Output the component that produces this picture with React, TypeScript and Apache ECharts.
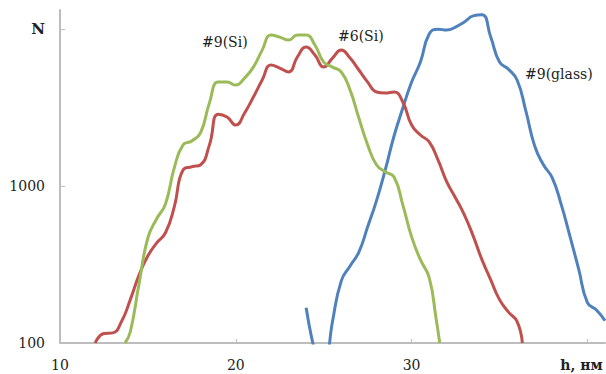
import React, { useEffect, useRef } from "react";
import * as echarts from "echarts";

// #6(Si) – red
const redX = [12, 12.5, 13, 13.5, 14, 14.5, 15, 15.5, 16, 16.5, 17, 17.5, 18, 18.5, 19, 19.5, 20, 20.5, 21, 21.5, 22, 22.5, 23, 23.5, 24, 24.5, 25, 25.5, 26, 26.5, 27, 27.5, 28, 28.5, 29, 29.5, 30, 30.5, 31, 31.5, 32, 32.5, 33, 33.5, 34, 34.5, 35, 35.5, 36, 36.3];
const redY = [100, 115, 116, 137, 189, 272, 360, 435, 505, 738, 1270, 1330, 1370, 1835, 2880, 2760, 2455, 2930, 3705, 4755, 5925, 5670, 5350, 6670, 7715, 6860, 5750, 6565, 7380, 6565, 5510, 4615, 3990, 3930, 3990, 3445, 2455, 2120, 1915, 1470, 1065, 842, 656, 482, 340, 253, 189, 158, 137, 100];

// #9(Si) – green
const greenX = [13.7, 14, 14.5, 15, 15.5, 16, 16.5, 17, 17.5, 18, 18.5, 19, 19.5, 20, 20.5, 21, 21.5, 22, 22.5, 23, 23.5, 24, 24.5, 25, 25.5, 26, 26.5, 27, 27.5, 28, 28.5, 29, 29.5, 30, 30.5, 31, 31.4, 31.6];
const greenY = [100, 118, 240, 469, 620, 770, 1310, 1835, 1945, 2200, 3400, 4615, 4615, 4415, 4900, 5750, 7380, 9200, 8935, 8550, 9200, 9200, 7950, 6190, 5750, 5350, 4100, 2720, 1835, 1370, 1235, 1146, 760, 475, 340, 261, 141, 100];

// #9(glass) – blue
const blueX = [24, 25, 25.5, 26, 26.5, 27, 27.5, 28, 28.5, 29, 29.5, 30, 30.5, 31, 31.5, 32, 32.5, 33, 33.5, 34, 34.5, 35, 35.5, 36, 36.5, 37, 37.5, 38, 38.5, 39, 39.5, 40, 40.5, 41];
const blueY = [168, 65, 137, 249, 310, 380, 551, 806, 1270, 2090, 3150, 4615, 6190, 9340, 10040, 9900, 10350, 11150, 12200, 12400, 8935, 6190, 5580, 4755, 3010, 1807, 1370, 1130, 771, 482, 297, 181, 163, 139];

const seriesNames = ["#6(Si)", "#9(Si)", "#9(glass)"];
const yTickLabels: Record<number, string> = { 100: "100", 1000: "1000", 10000: "{b|N}" };
const xTickLabels: Record<number, string> = { 10: "10", 20: "20", 30: "30", 40: "{u|h, нм}" };

const zip = (xs: number[], ys: number[]) => xs.map((x, i) => [x, ys[i]]);

export default function App() {
  const ref = useRef<HTMLDivElement>(null);
  useEffect(() => {
    if (!ref.current) return;
    const chart = echarts.init(ref.current, null, { renderer: "svg" });
    const font = "DejaVu Serif";
    const axisGray = "#bdbdbd";
    const smooth = 0.5;
    chart.setOption({
      animation: false,
      backgroundColor: "#ffffff",
      textStyle: { fontFamily: font },
      grid: { left: 60, right: 1, top: 10, bottom: 31, containLabel: false },
      xAxis: {
        type: "value",
        min: 10,
        max: 41,
        interval: 10,
        splitLine: { show: false },
        axisLine: { lineStyle: { color: axisGray, width: 2 } },
        axisTick: { inside: true, length: 4, lineStyle: { color: axisGray } },
        axisLabel: {
          showMaxLabel: false,
          margin: 15,
          fontSize: 14,
          color: "#222",
          fontFamily: font,
          formatter: (v: number) => xTickLabels[v] ?? "",
          rich: {
            u: { fontWeight: "bold", fontSize: 14, color: "#222", fontFamily: font, padding: [0, 12, 0, 0] },
          },
        },
      },
      yAxis: {
        type: "log",
        logBase: 10,
        min: 100,
        max: 13300,
        splitLine: { show: false },
        axisLine: { lineStyle: { color: axisGray, width: 2 } },
        axisTick: { inside: true, length: 5, lineStyle: { color: axisGray } },
        axisLabel: {
          margin: 15,
          fontSize: 14,
          color: "#222",
          fontFamily: font,
          showMaxLabel: false,
          formatter: (v: number) => yTickLabels[Math.round(v)] ?? "",
          rich: {
            b: { fontWeight: "bold", fontSize: 15, color: "#222", fontFamily: font },
          },
        },
      },
      series: [
        {
          name: seriesNames[2],
          type: "line",
          data: zip(blueX, blueY),
          smooth,
          showSymbol: false,
          clip: true,
          lineStyle: { color: "#4f81bd", width: 3 },
        },
        {
          name: seriesNames[0],
          type: "line",
          data: zip(redX, redY),
          smooth,
          showSymbol: false,
          clip: true,
          lineStyle: { color: "#c0504d", width: 3 },
        },
        {
          name: seriesNames[1],
          type: "line",
          data: zip(greenX, greenY),
          smooth,
          showSymbol: false,
          clip: true,
          lineStyle: { color: "#9bbb59", width: 3 },
        },
      ],
      graphic: [
        { type: "text", left: 202, top: 35, style: { text: seriesNames[1], font: `14px '${font}'`, fill: "#222" } },
        { type: "text", left: 338, top: 29, style: { text: seriesNames[0], font: `14px '${font}'`, fill: "#222" } },
        { type: "text", left: 525, top: 67, style: { text: seriesNames[2], font: `14px '${font}'`, fill: "#222" } },
      ],
    });
    return () => chart.dispose();
  }, []);
  return (
    <div
      ref={ref}
      style={{ position: "absolute", left: 0, top: 0, width: 606, height: 374 }}
    />
  );
}
